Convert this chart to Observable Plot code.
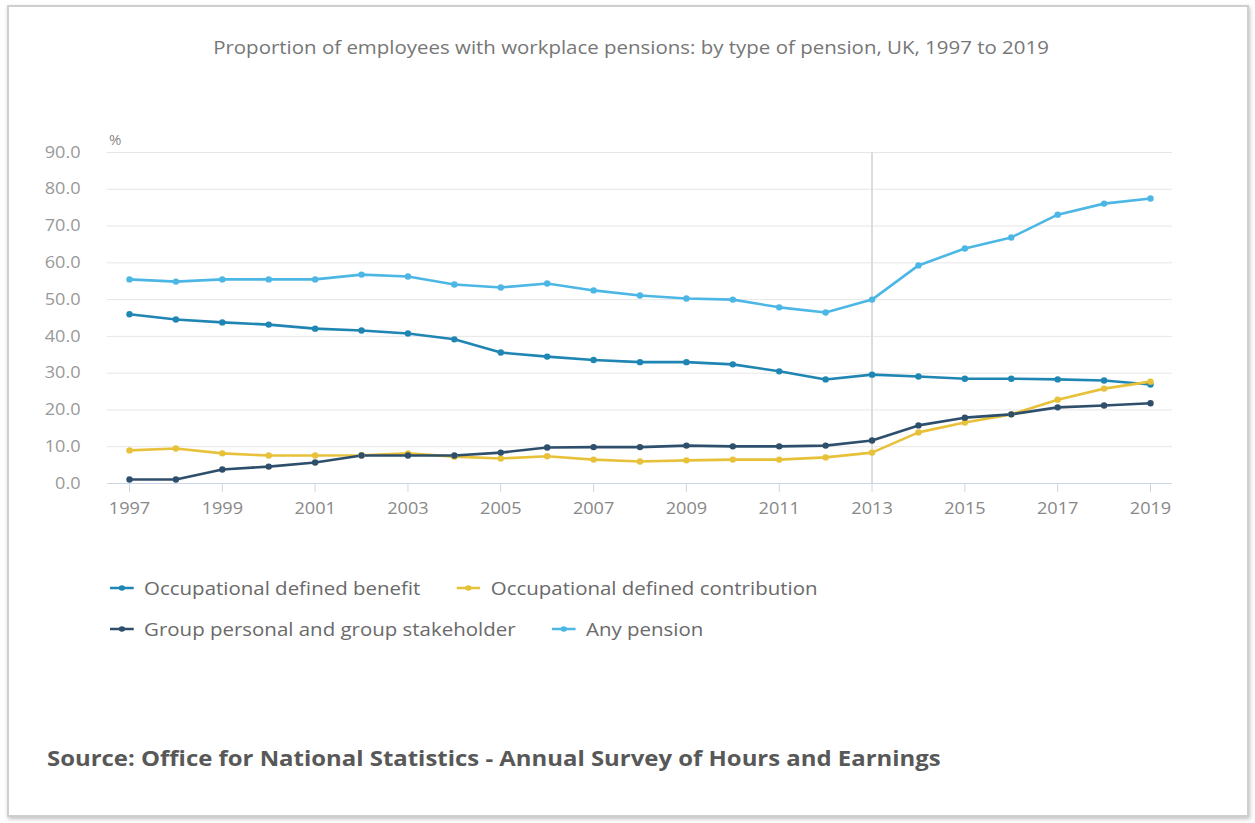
<!DOCTYPE html>
<html>
<head>
<meta charset="utf-8">
<script src="https://cdn.jsdelivr.net/npm/d3@7"></script>
<script src="https://cdn.jsdelivr.net/npm/@observablehq/plot@0.6"></script>
<style>
  html, body { margin:0; padding:0; background:#fff; }
  body { width:1255px; height:823px; position:relative; overflow:hidden; font-family:"Open Sans", sans-serif; }
  #frame { position:absolute; left:7px; top:5px; width:1238px; height:808px; border:2px solid #cfcfcf; box-shadow: 1px 2px 4px rgba(0,0,0,0.25); background:#fff; }
  #title { position:absolute; left:0; width:1262px; top:35px; text-align:center; font-size:18px; color:#777; transform:scaleX(1.136); transform-origin:631px 0; }
  #unit { position:absolute; left:109px; top:129px; font-size:15px; color:#888; }
  #chart { position:absolute; left:0; top:120px; }
  #legend { position:absolute; left:110px; top:567px; font-size:18px; color:#6a6a6a; transform:scaleX(1.136); transform-origin:0 0; }
  .row { display:flex; gap:32px; height:41px; align-items:center; }
  .item { display:flex; align-items:center; gap:9px; }
  #source { position:absolute; left:47px; top:744px; font-size:21px; font-weight:700; color:#585858; transform:scaleX(1.139); transform-origin:0 0; white-space:nowrap; }
</style>
</head>
<body>
<div id="frame"></div>
<div id="title">Proportion of employees with workplace pensions: by type of pension, UK, 1997 to 2019</div>
<div id="unit">%</div>
<div id="chart"></div>
<div id="legend"></div>
<div id="source">Source: Office for National Statistics - Annual Survey of Hours and Earnings</div>
<script>
const years = [1997,1998,1999,2000,2001,2002,2003,2004,2005,2006,2007,2008,2009,2010,2011,2012,2013,2014,2015,2016,2017,2018,2019];
const definedBenefit = [46.0,44.6,43.8,43.2,42.1,41.6,40.8,39.2,35.6,34.5,33.6,33.0,33.0,32.4,30.5,28.3,29.6,29.1,28.5,28.5,28.3,28.0,26.9];
const definedContribution = [9.0,9.5,8.2,7.6,7.6,7.7,8.2,7.3,6.8,7.4,6.5,6.0,6.3,6.5,6.5,7.1,8.4,13.9,16.6,18.8,22.8,25.8,27.7];
const groupPersonal = [1.1,1.1,3.8,4.6,5.7,7.6,7.6,7.6,8.4,9.8,9.9,9.9,10.3,10.1,10.1,10.3,11.7,15.8,17.9,18.8,20.7,21.2,21.8];
const anyPension = [55.5,54.9,55.5,55.5,55.5,56.8,56.3,54.1,53.3,54.4,52.5,51.1,50.3,50.0,47.9,46.5,50.0,59.3,63.9,66.9,73.1,76.1,77.5];
const seriesNames = ["Occupational defined benefit","Occupational defined contribution","Group personal and group stakeholder","Any pension"];
const seriesColors = ["#1f86b4","#e8c13a","#2e4f6c","#4cb7e4"];
const yTicks = [0,10,20,30,40,50,60,70,80,90];
const xTicks = [1997,1999,2001,2003,2005,2007,2009,2011,2013,2015,2017,2019];
const highlightYear = [2013];

const seriesValues = [definedBenefit, definedContribution, groupPersonal, anyPension];
const data = [];
seriesNames.forEach((s, k) => years.forEach((yr, i) => data.push({year: yr, series: s, value: seriesValues[k][i]})));

const chart = Plot.plot({
  width: 1200, height: 400,
  marginLeft: 107, marginRight: 28, marginTop: 32, marginBottom: 37,
  style: {fontFamily: "Open Sans, sans-serif", background: "transparent"},
  x: {domain: [1997, 2019], inset: 22},
  y: {domain: [0, 90]},
  color: {domain: seriesNames, range: seriesColors},
  marks: [
    Plot.gridY(yTicks.filter(d => d > 0), {stroke: "#e6e6e6", strokeOpacity: 1}),
    Plot.ruleX(highlightYear, {stroke: "#dcdcdc", strokeWidth: 2}),
    Plot.ruleY([0], {stroke: "#ccd6eb"}),
    Plot.axisY(yTicks, {tickSize: 0, tickPadding: 27, tickFormat: d => d.toFixed(1), fill: "#999", fontSize: 16, label: null}),
    Plot.axisX(xTicks, {tickSize: 9, stroke: "#ccd6eb", tickFormat: d => String(d), fill: "#888", fontSize: 16, tickPadding: 10, label: null}),
    Plot.lineY(data, {x: "year", y: "value", z: "series", stroke: "series", strokeWidth: 2.6}),
    Plot.dot(data, {x: "year", y: "value", fill: "series", r: 3.2})
  ]
});
document.getElementById("chart").appendChild(chart);

// widen axis labels to match the horizontally stretched reference
chart.querySelectorAll('g[aria-label="x-axis tick label"] text, g[aria-label="y-axis tick label"] text').forEach(t => {
  const len = t.getComputedTextLength();
  t.setAttribute("textLength", (len * 1.13).toFixed(1));
  t.setAttribute("lengthAdjust", "spacingAndGlyphs");
});

const legend = document.getElementById("legend");
const rows = [[0,1],[2,3]];
rows.forEach(r => {
  const row = document.createElement("div");
  row.className = "row";
  r.forEach(k => {
    const item = document.createElement("div");
    item.className = "item";
    item.innerHTML = `<svg width="21" height="10"><line x1="0" x2="21" y1="5" y2="5" stroke="${seriesColors[k]}" stroke-width="2.5"/><circle cx="10.5" cy="5" r="2.8" fill="${seriesColors[k]}"/></svg><span>${seriesNames[k]}</span>`;
    row.appendChild(item);
  });
  legend.appendChild(row);
});
</script>
</body>
</html>
